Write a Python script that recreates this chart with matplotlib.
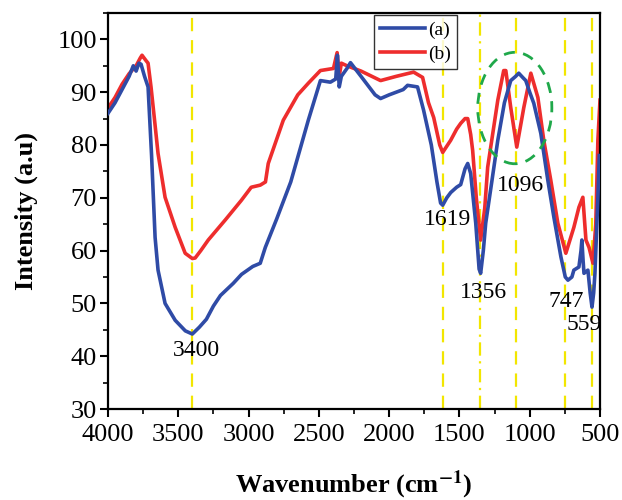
import matplotlib
matplotlib.use("Agg")
import matplotlib.pyplot as plt
from matplotlib.patches import Ellipse
from matplotlib.ticker import MultipleLocator

# ---- data ----
wn_a = [4000, 3950, 3900, 3850, 3820, 3800, 3780, 3765, 3740, 3715, 3690, 3665, 3644, 3594,
        3522, 3450, 3400, 3350, 3300, 3250, 3200, 3109, 3050, 2970, 2917, 2881, 2800, 2700,
        2575, 2489, 2418, 2380, 2368, 2355, 2340, 2300, 2275, 2200, 2100, 2061, 2000, 1900,
        1869, 1798, 1755, 1700, 1660, 1634, 1619, 1590, 1562, 1520, 1491, 1460, 1441, 1420,
        1384, 1360, 1349, 1330, 1313, 1270, 1227, 1180, 1135, 1100, 1078, 1050, 1028, 1000,
        971, 921, 871, 828, 778, 747, 728, 700, 686, 650, 635, 629, 620, 614, 586, 570, 557,
        545, 536, 515, 505]
int_a = [86, 88, 90.5, 93, 95, 94, 95.5, 95.3, 93, 91, 78, 62.5, 56.3, 50,
         46.8, 44.8, 44.2, 45.5, 47, 49.5, 51.5, 53.8, 55.5, 57, 57.6, 60.6, 66, 73,
         84.7, 92.2, 91.9, 92.5, 97, 91, 93, 94.5, 95.6, 93, 89.5, 88.8, 89.5, 90.5,
         91.3, 91, 86.6, 80, 73, 69, 68.6, 70, 71, 72, 72.5, 75.5, 76.5, 74.6,
         65.2, 56.5, 55.7, 60, 65.2, 73, 80.9, 88, 92.2, 93, 93.6, 92.8, 92.2, 90,
         87.9, 82.2, 73.3, 66.3, 58.8, 55, 54.4, 55, 56.3, 56.9, 60, 62, 58, 55.7, 56.3, 52, 49.3,
         52, 55.7, 70.1, 78]

wn_b = [4000, 3950, 3900, 3850, 3800, 3770, 3758, 3730, 3715, 3694, 3670, 3644, 3594, 3522,
        3451, 3400, 3380, 3340, 3287, 3166, 3052, 2981, 2917, 2880, 2860, 2753, 2650, 2575,
        2489, 2396, 2370, 2355, 2340, 2300, 2200, 2061, 1950, 1826, 1762, 1720, 1683, 1640,
        1619, 1562, 1520, 1491, 1460, 1441, 1420, 1406, 1380, 1349, 1320, 1299, 1227, 1185,
        1170, 1135, 1092, 1042, 992, 942, 900, 850, 800, 743, 686, 650, 622, 600, 578, 550,
        530, 515, 500]
int_b = [87, 89, 91.5, 93.5, 95, 96.5, 97, 96, 95.5, 91, 85, 78.4, 70.1, 64.4,
         59.5, 58.5, 58.6, 60, 62, 65.8, 69.5, 72, 72.4, 73, 76.5, 84.7, 89.5, 91.7,
         94.1, 94.5, 97.5, 93, 95.5, 95, 94, 92.2, 93, 93.8, 92.8, 88, 85.2, 80,
         78.6, 80.9, 83, 84.1, 85, 85, 82, 79, 70, 62, 68, 75.8, 88.5, 94.1,
         94.1, 87.1, 79.6, 87.1, 93.6, 89, 80.9, 73.3, 65.2, 59.5, 64.4, 68.2, 70.1, 62, 60.6, 57.6,
         65, 80.9, 88.5]

series_labels = ["(a)", "(b)"]
peak_positions = [3400, 1619, 1356, 1096, 747, 559]
peak_labels = ["3400", "1619", "1356", "1096", "747", "559"]
label_xy = [(3373, 41.0), (1584, 65.8), (1327, 52.1), (1063, 72.4), (743, 50.4), (614, 46.0)]

plt.rcParams['font.family'] = ['Liberation Serif', 'DejaVu Serif']
plt.rcParams['mathtext.fontset'] = 'stix'

fig = plt.figure(figsize=(6.22, 5.0), dpi=100)
ax = fig.add_axes([108/622, 1-409/500, (600-108)/622, (409-13)/500])

for x, lbl in zip(peak_positions, peak_labels):
    ls = (0, (6, 2.5, 1, 2.5)) if lbl == "1356" else (0, (6, 4))
    ax.axvline(x, color='#f2e600', lw=1.6, linestyle=ls, zorder=1)

ax.plot(wn_a, int_a, color='#2f4ba6', lw=2.6, label=series_labels[0], zorder=3)
ax.plot(wn_b, int_b, color='#ee2d2d', lw=2.6, label=series_labels[1], zorder=2)

ell = Ellipse((1106, 87.0), width=527, height=21.1, fill=False,
              edgecolor='#1fa84a', lw=2.0, linestyle=(0, (4, 3)), zorder=4)
ax.add_patch(ell)

for (x, y), lbl in zip(label_xy, peak_labels):
    ax.text(x, y, lbl, fontsize=17, ha='center', va='center', zorder=5)

ax.set_xlim(4000, 500)
ax.set_ylim(30, 105)
ax.xaxis.set_major_locator(MultipleLocator(500))
ax.xaxis.set_minor_locator(MultipleLocator(250))
ax.yaxis.set_minor_locator(MultipleLocator(5))
ax.set_yticks([30, 40, 50, 60, 70, 80, 90, 100])

ax.tick_params(axis='both', which='major', labelsize=19, direction='out', length=6, width=1.5)
ax.tick_params(axis='both', which='minor', direction='out', length=3.5, width=1.2)
ax.tick_params(axis='x', which='major', pad=5)
ax.tick_params(axis='y', which='major', pad=2)
for s in ax.spines.values():
    s.set_linewidth(1.6)

ax.set_xlabel(r'Wavenumber (cm$^{\mathbf{-1}}$)', fontsize=19, fontweight='bold')
ax.set_ylabel('Intensity (a.u)', fontsize=19, fontweight='bold')
ax.xaxis.set_label_coords(0.5, -0.15)
ax.yaxis.set_label_coords(-0.143, 0.5)

leg = ax.legend(loc='upper left', bbox_to_anchor=((374-108)/492, 1-(15-13)/396),
                fontsize=14, frameon=True, fancybox=False, edgecolor='black',
                handlelength=2.3, handletextpad=0.2, borderpad=0.3, labelspacing=0.35,
                borderaxespad=0)
leg.get_frame().set_linewidth(1.0)

fig.savefig('out.png', dpi=100)
